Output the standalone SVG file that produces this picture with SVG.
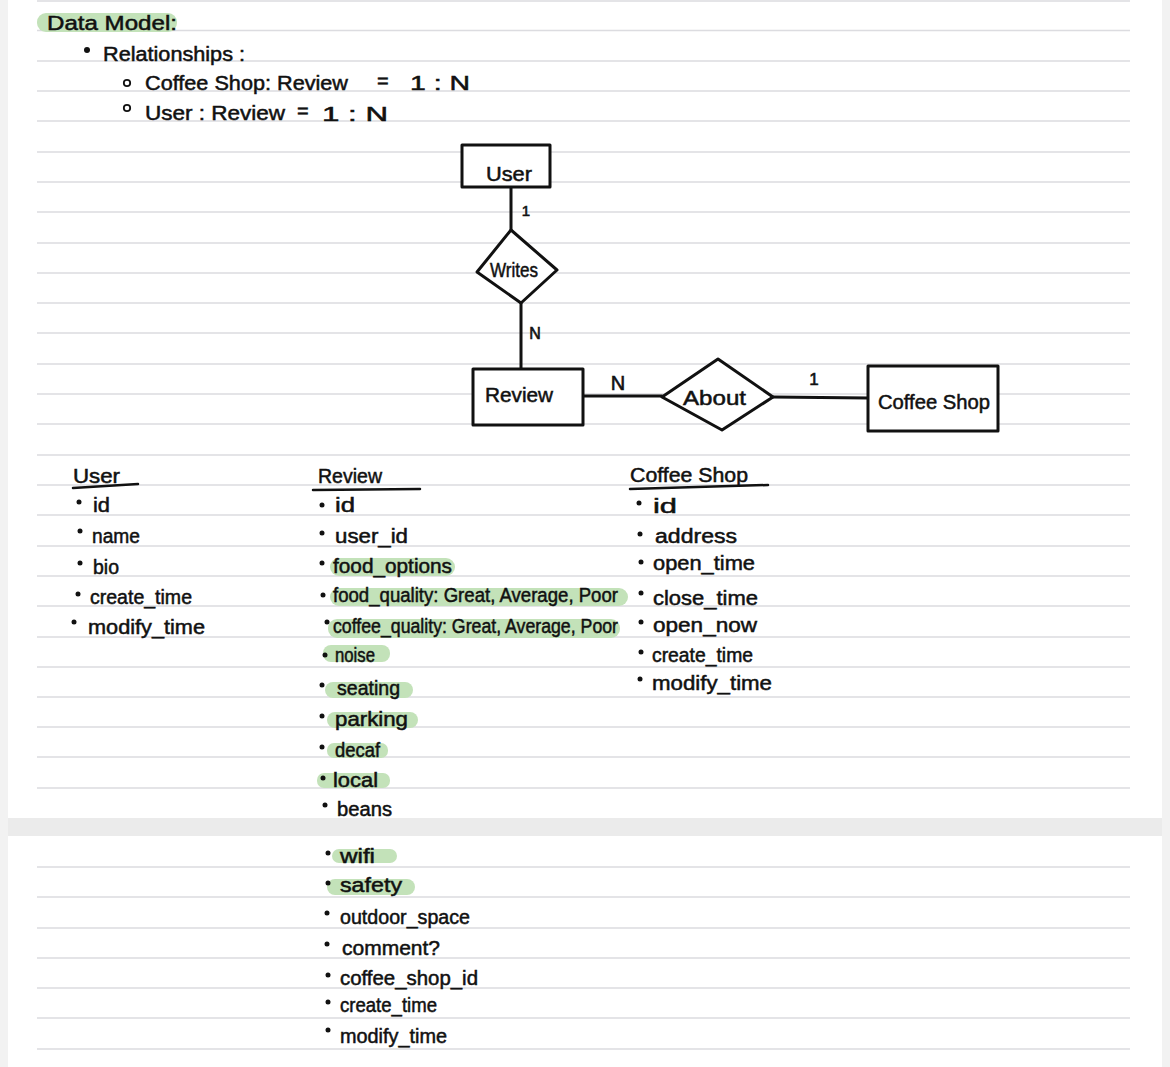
<svg xmlns="http://www.w3.org/2000/svg" width="1170" height="1067" viewBox="0 0 1170 1067">
<style>
.t{font-family:"Liberation Sans",Arial,sans-serif;fill:#111;font-size:20px;stroke:#111;stroke-width:0.5}
.hl{fill:#c3e2b9}
.rule{stroke:#dcdce0;stroke-width:1.5;fill:none}
.node{fill:#fff;stroke:#111;stroke-width:3;stroke-linejoin:round}
.edge{stroke:#111;stroke-width:3;fill:none;stroke-linecap:round}
.ul{stroke:#111;stroke-width:2.5;fill:none;stroke-linecap:round}
.dot{fill:#111}
.ring{fill:none;stroke:#111;stroke-width:1.8}
.lbl{font-family:"Liberation Sans",Arial,sans-serif;fill:#111;stroke:#111;stroke-width:0.6;text-anchor:middle}
</style>
<rect x="0" y="0" width="1170" height="1067" fill="#f2f2f2"/>
<rect x="8" y="0" width="1154" height="818" fill="#fff"/>
<rect x="8" y="818" width="1154" height="18" fill="#ebebeb"/>
<rect x="8" y="836" width="1154" height="231" fill="#fff"/>
<path class="rule" d="M37 1H1130M37 30.5H1130M37 61H1130M37 91H1130M37 121H1130M37 152H1130M37 182H1130M37 212H1130M37 243H1130M37 273H1130M37 303H1130M37 333H1130M37 364H1130M37 394H1130M37 424H1130M37 455H1130M37 485H1130M37 515H1130M37 546H1130M37 576H1130M37 606H1130M37 637H1130M37 667H1130M37 697H1130M37 727H1130M37 757H1130M37 788H1130M37 867H1130M37 897H1130M37 928H1130M37 958H1130M37 988H1130M37 1018H1130M37 1049H1130"/>

<!-- header notes -->
<rect class="hl" x="37" y="13" width="140" height="19" rx="9"/>
<text class="t" x="47" y="30" font-size="24" textLength="130" lengthAdjust="spacingAndGlyphs">Data Model:</text>
<circle class="dot" cx="87" cy="50" r="3"/>
<text class="t" x="103" y="61" textLength="142" lengthAdjust="spacingAndGlyphs">Relationships :</text>
<circle class="ring" cx="127" cy="83" r="3.2"/>
<text class="t" x="145" y="90" font-size="21" textLength="203" lengthAdjust="spacingAndGlyphs">Coffee Shop: Review</text>
<text class="t" x="377" y="88" font-size="18">=</text>
<text class="t" x="410" y="90" font-size="22" textLength="60" lengthAdjust="spacingAndGlyphs">1 : N</text>
<circle class="ring" cx="127" cy="108" r="3.2"/>
<text class="t" x="145" y="120" font-size="21" textLength="140" lengthAdjust="spacingAndGlyphs">User : Review</text>
<text class="t" x="297" y="118" font-size="16">=</text>
<text class="t" x="322" y="121" font-size="24" textLength="66" lengthAdjust="spacingAndGlyphs">1 : N</text>

<!-- connectors -->
<g id="connectors">
<path class="edge" d="M511 187L511 230"/>
<path class="edge" d="M521 303L521 369"/>
<path class="edge" d="M583 396L662 396"/>
<path class="edge" d="M773 397L868 398"/>
<text class="lbl" x="526" y="216" font-size="15">1</text>
<text class="lbl" x="535" y="339" font-size="16">N</text>
<text class="lbl" x="618" y="390" font-size="20">N</text>
<text class="lbl" x="814" y="385" font-size="17">1</text>
</g>

<!-- nodes -->
<g id="user">
<rect class="node" x="462" y="145" width="88" height="42"/>
<text class="t" x="486" y="181" font-size="24" textLength="46" lengthAdjust="spacingAndGlyphs">User</text>
</g>
<g id="writes">
<polygon class="node" points="511,230 557,270 521,303 477,272"/>
<text class="t" x="490" y="277" font-size="16" textLength="48" lengthAdjust="spacingAndGlyphs">Writes</text>
</g>
<g id="review">
<rect class="node" x="473" y="369" width="110" height="56"/>
<text class="t" x="485" y="402" font-size="21" textLength="68" lengthAdjust="spacingAndGlyphs">Review</text>
</g>
<g id="about">
<polygon class="node" points="662,397 718,359 773,397 722,430"/>
<text class="t" x="683" y="405" font-size="23" textLength="63" lengthAdjust="spacingAndGlyphs">About</text>
</g>
<g id="coffee-shop">
<rect class="node" x="868" y="366" width="130" height="65"/>
<text class="t" x="878" y="409" font-size="24" textLength="112" lengthAdjust="spacingAndGlyphs">Coffee Shop</text>
</g>

<!-- User attributes -->
<text class="t" x="73" y="483" textLength="47" lengthAdjust="spacingAndGlyphs">User</text>
<path class="ul" d="M73 488L138 484"/>
<circle class="dot" cx="79" cy="502" r="2.5"/>
<text class="t" x="93" y="512" textLength="17" lengthAdjust="spacingAndGlyphs">id</text>
<circle class="dot" cx="80" cy="531" r="2.5"/>
<text class="t" x="92" y="543" textLength="48" lengthAdjust="spacingAndGlyphs">name</text>
<circle class="dot" cx="80" cy="563" r="2.5"/>
<text class="t" x="93" y="574" textLength="26" lengthAdjust="spacingAndGlyphs">bio</text>
<circle class="dot" cx="78" cy="594" r="2.5"/>
<text class="t" x="90" y="604" textLength="102" lengthAdjust="spacingAndGlyphs">create_time</text>
<circle class="dot" cx="74" cy="622" r="2.5"/>
<text class="t" x="88" y="634" textLength="117" lengthAdjust="spacingAndGlyphs">modify_time</text>

<!-- Review attributes -->
<text class="t" x="318" y="483" textLength="64" lengthAdjust="spacingAndGlyphs">Review</text>
<path class="ul" d="M313 490L420 489"/>
<rect class="hl" x="330" y="558" width="125" height="18" rx="9"/>
<rect class="hl" x="330" y="588" width="298" height="18" rx="9"/>
<rect class="hl" x="328" y="619" width="292" height="19" rx="9"/>
<rect class="hl" x="323" y="645" width="67" height="17" rx="8"/>
<rect class="hl" x="325" y="682" width="88" height="16" rx="8"/>
<rect class="hl" x="327" y="712" width="91" height="16" rx="8"/>
<rect class="hl" x="327" y="743" width="61" height="15" rx="7"/>
<rect class="hl" x="317" y="773" width="73" height="15" rx="7"/>
<rect class="hl" x="332" y="849" width="65" height="14" rx="7"/>
<rect class="hl" x="327" y="879" width="88" height="16" rx="8"/>
<circle class="dot" cx="322" cy="505" r="2.5"/>
<text class="t" x="335" y="512" textLength="20" lengthAdjust="spacingAndGlyphs">id</text>
<circle class="dot" cx="322" cy="533" r="2.5"/>
<text class="t" x="335" y="543" textLength="73" lengthAdjust="spacingAndGlyphs">user_id</text>
<circle class="dot" cx="322" cy="563" r="2.5"/>
<text class="t" x="333" y="573" textLength="119" lengthAdjust="spacingAndGlyphs">food_options</text>
<circle class="dot" cx="323" cy="595" r="2.5"/>
<text class="t" x="333" y="602" textLength="285" lengthAdjust="spacingAndGlyphs">food_quality: Great, Average, Poor</text>
<circle class="dot" cx="327" cy="622" r="2.5"/>
<text class="t" x="333" y="633" textLength="285" lengthAdjust="spacingAndGlyphs">coffee_quality: Great, Average, Poor</text>
<circle class="dot" cx="325" cy="655" r="2.5"/>
<text class="t" x="335" y="662" textLength="40" lengthAdjust="spacingAndGlyphs">noise</text>
<circle class="dot" cx="322" cy="685" r="2.5"/>
<text class="t" x="337" y="695" textLength="63" lengthAdjust="spacingAndGlyphs">seating</text>
<circle class="dot" cx="322" cy="716" r="2.5"/>
<text class="t" x="335" y="726" textLength="73" lengthAdjust="spacingAndGlyphs">parking</text>
<circle class="dot" cx="322" cy="747" r="2.5"/>
<text class="t" x="335" y="757" textLength="45" lengthAdjust="spacingAndGlyphs">decaf</text>
<circle class="dot" cx="323" cy="778" r="2.5"/>
<text class="t" x="333" y="787" textLength="45" lengthAdjust="spacingAndGlyphs">local</text>
<circle class="dot" cx="325" cy="805" r="2.5"/>
<text class="t" x="337" y="816" textLength="55" lengthAdjust="spacingAndGlyphs">beans</text>
<circle class="dot" cx="328" cy="853" r="2.5"/>
<text class="t" x="340" y="863" textLength="35" lengthAdjust="spacingAndGlyphs">wifi</text>
<circle class="dot" cx="328" cy="883" r="2.5"/>
<text class="t" x="340" y="892" textLength="62" lengthAdjust="spacingAndGlyphs">safety</text>
<circle class="dot" cx="327" cy="913" r="2.5"/>
<text class="t" x="340" y="924" textLength="130" lengthAdjust="spacingAndGlyphs">outdoor_space</text>
<circle class="dot" cx="327" cy="944" r="2.5"/>
<text class="t" x="342" y="955" textLength="98" lengthAdjust="spacingAndGlyphs">comment?</text>
<circle class="dot" cx="328" cy="975" r="2.5"/>
<text class="t" x="340" y="985" textLength="138" lengthAdjust="spacingAndGlyphs">coffee_shop_id</text>
<circle class="dot" cx="328" cy="1002" r="2.5"/>
<text class="t" x="340" y="1012" textLength="97" lengthAdjust="spacingAndGlyphs">create_time</text>
<circle class="dot" cx="328" cy="1030" r="2.5"/>
<text class="t" x="340" y="1043" textLength="107" lengthAdjust="spacingAndGlyphs">modify_time</text>

<!-- Coffee Shop attributes -->
<text class="t" x="630" y="482" textLength="118" lengthAdjust="spacingAndGlyphs">Coffee Shop</text>
<path class="ul" d="M630 489L768 485"/>
<circle class="dot" cx="639" cy="503" r="2.5"/>
<text class="t" x="653" y="513" textLength="24" lengthAdjust="spacingAndGlyphs">id</text>
<circle class="dot" cx="640" cy="534" r="2.5"/>
<text class="t" x="655" y="543" textLength="82" lengthAdjust="spacingAndGlyphs">address</text>
<circle class="dot" cx="641" cy="562" r="2.5"/>
<text class="t" x="653" y="570" textLength="102" lengthAdjust="spacingAndGlyphs">open_time</text>
<circle class="dot" cx="641" cy="593" r="2.5"/>
<text class="t" x="653" y="605" textLength="105" lengthAdjust="spacingAndGlyphs">close_time</text>
<circle class="dot" cx="641" cy="622" r="2.5"/>
<text class="t" x="653" y="632" textLength="104" lengthAdjust="spacingAndGlyphs">open_now</text>
<circle class="dot" cx="641" cy="652" r="2.5"/>
<text class="t" x="652" y="662" textLength="101" lengthAdjust="spacingAndGlyphs">create_time</text>
<circle class="dot" cx="640" cy="679" r="2.5"/>
<text class="t" x="652" y="690" textLength="120" lengthAdjust="spacingAndGlyphs">modify_time</text>
</svg>
